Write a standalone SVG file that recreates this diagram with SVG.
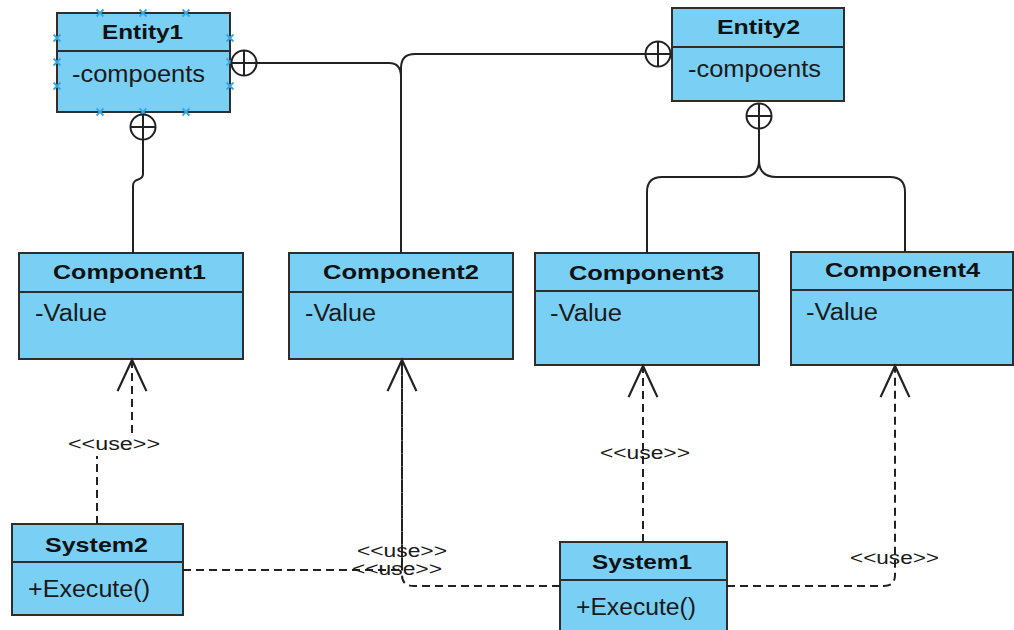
<svg xmlns="http://www.w3.org/2000/svg" width="1014" height="630" viewBox="0 0 1014 630">
  <style>
    .box { fill: #79cff4; stroke: #2e2e2e; stroke-width: 2; }
    .div { stroke: #2e2e2e; stroke-width: 2; }
    .title { font-family: "Liberation Sans", Arial, sans-serif; font-weight: bold; font-size: 21px; fill: #111; }
    .attr { font-family: "Liberation Sans", Arial, sans-serif; font-size: 23px; fill: #1a1a1a; }
    .lbl { font-family: "Liberation Sans", Arial, sans-serif; font-size: 18px; fill: #1a1a1a; }
    .solid { fill: none; stroke: #222; stroke-width: 2; }
    .dash { fill: none; stroke: #222; stroke-width: 2; stroke-dasharray: 8 5; }
    .nest { fill: #fff; stroke: #222; stroke-width: 2; }
    .sel { stroke: #3aa7e2; stroke-width: 1.8; }
  </style>
  <defs>
    <marker id="open" markerUnits="userSpaceOnUse" markerWidth="40" markerHeight="40" viewBox="-32 -16 36 32" refX="0" refY="0" orient="auto" overflow="visible">
      <path d="M-28,-13 L0,0 L-28,13" fill="none" stroke="#222" stroke-width="2"/>
    </marker>
    <g id="nestmark">
      <circle r="12.5" class="nest"/>
      <path d="M-12.5,0 H12.5 M0,-12.5 V12.5" stroke="#222" stroke-width="2"/>
    </g>
    <path id="selx" d="M-3.5,-3.5 L3.5,3.5 M-3.5,3.5 L3.5,-3.5" class="sel"/>
  </defs>

  <rect width="1014" height="630" fill="#fff"/>

  <!-- classes -->
  <g id="entity1">
    <rect x="57" y="13" width="173" height="99" class="box"/>
    <line x1="57" y1="51" x2="230" y2="51" class="div"/>
    <text x="102" y="39" class="title" textLength="81" lengthAdjust="spacingAndGlyphs">Entity1</text>
    <text x="72" y="82" class="attr" textLength="133" lengthAdjust="spacingAndGlyphs">-compoents</text>
    <!-- selection handles -->
    <use href="#selx" x="100" y="13"/>
    <use href="#selx" x="143" y="13"/>
    <use href="#selx" x="186" y="13"/>
    <use href="#selx" x="100" y="112"/>
    <use href="#selx" x="143" y="112"/>
    <use href="#selx" x="186" y="112"/>
    <use href="#selx" x="57" y="38"/>
    <use href="#selx" x="57" y="62"/>
    <use href="#selx" x="57" y="86"/>
    <use href="#selx" x="230" y="38"/>
    <use href="#selx" x="230" y="62"/>
    <use href="#selx" x="230" y="86"/>
  </g>

  <g id="entity2">
    <rect x="672" y="8" width="172" height="93" class="box"/>
    <line x1="672" y1="47" x2="844" y2="47" class="div"/>
    <text x="717" y="34" class="title" textLength="83" lengthAdjust="spacingAndGlyphs">Entity2</text>
    <text x="688" y="77" class="attr" textLength="133" lengthAdjust="spacingAndGlyphs">-compoents</text>
  </g>

  <g id="component1">
    <rect x="19" y="253" width="224" height="106" class="box"/>
    <line x1="19" y1="292" x2="243" y2="292" class="div"/>
    <text x="53" y="279" class="title" textLength="153" lengthAdjust="spacingAndGlyphs">Component1</text>
    <text x="35" y="321" class="attr" textLength="72" lengthAdjust="spacingAndGlyphs">-Value</text>
  </g>

  <g id="component2">
    <rect x="289" y="253" width="224" height="106" class="box"/>
    <line x1="289" y1="292" x2="513" y2="292" class="div"/>
    <text x="323" y="279" class="title" textLength="156" lengthAdjust="spacingAndGlyphs">Component2</text>
    <text x="305" y="321" class="attr" textLength="71" lengthAdjust="spacingAndGlyphs">-Value</text>
  </g>

  <g id="component3">
    <rect x="535" y="253" width="224" height="112" class="box"/>
    <line x1="535" y1="291" x2="759" y2="291" class="div"/>
    <text x="569" y="280" class="title" textLength="155" lengthAdjust="spacingAndGlyphs">Component3</text>
    <text x="550" y="321" class="attr" textLength="72" lengthAdjust="spacingAndGlyphs">-Value</text>
  </g>

  <g id="component4">
    <rect x="791" y="252" width="222" height="113" class="box"/>
    <line x1="791" y1="290" x2="1013" y2="290" class="div"/>
    <text x="825" y="277" class="title" textLength="155" lengthAdjust="spacingAndGlyphs">Component4</text>
    <text x="806" y="320" class="attr" textLength="72" lengthAdjust="spacingAndGlyphs">-Value</text>
  </g>

  <g id="system2">
    <rect x="12" y="524" width="171" height="91" class="box"/>
    <line x1="12" y1="562" x2="183" y2="562" class="div"/>
    <text x="45" y="552" class="title" textLength="103" lengthAdjust="spacingAndGlyphs">System2</text>
    <text x="28" y="597" class="attr" textLength="122" lengthAdjust="spacingAndGlyphs">+Execute()</text>
  </g>

  <g id="system1">
    <rect x="560" y="542" width="167" height="100" class="box"/>
    <line x1="560" y1="580" x2="727" y2="580" class="div"/>
    <text x="592" y="569" class="title" textLength="100" lengthAdjust="spacingAndGlyphs">System1</text>
    <text x="576" y="615" class="attr" textLength="120" lengthAdjust="spacingAndGlyphs">+Execute()</text>
  </g>

  <!-- connectors -->
  <g id="connectors">
    <!-- nesting: Entity1 / Entity2 own Component2 -->
    <path d="M256,63 H389 Q401,63 401,77 V253" class="solid"/>
    <path d="M645,54 H415 Q401,54 401,68 V253" class="solid"/>
    <!-- nesting: Entity1 owns Component1 -->
    <path d="M143,140 V174 C143,182 133,177 133,186 V253" class="solid"/>
    <!-- nesting: Entity2 owns Component3 and Component4 -->
    <path d="M759,129 V160 Q759,177 742,177 H662 Q647,177 647,192 V253" class="solid"/>
    <path d="M759,160 Q759,177 776,177 H890 Q905,177 905,192 V252" class="solid"/>
    <use href="#nestmark" x="244" y="63"/>
    <use href="#nestmark" x="143" y="127"/>
    <use href="#nestmark" x="658" y="54"/>
    <use href="#nestmark" x="759" y="116"/>

    <!-- usage dependencies -->
    <path d="M97,524 V456 M132,433 V360" class="dash" marker-end="url(#open)"/>
    <path d="M183,570 H396 Q402,570 402,564 V360" class="dash" marker-end="url(#open)"/>
    <path d="M560,586 H414 Q402,586 402,575 V360" class="dash"/>
    <path d="M643,542 V366" class="dash" marker-end="url(#open)"/>
    <path d="M727,586 H884 Q895,586 895,575 V366" class="dash" marker-end="url(#open)"/>

    <text x="68" y="450" class="lbl" textLength="92" lengthAdjust="spacingAndGlyphs">&lt;&lt;use&gt;&gt;</text>
    <text x="357" y="557" class="lbl" textLength="90" lengthAdjust="spacingAndGlyphs">&lt;&lt;use&gt;&gt;</text>
    <text x="352" y="575" class="lbl" textLength="90" lengthAdjust="spacingAndGlyphs">&lt;&lt;use&gt;&gt;</text>
    <text x="600" y="459" class="lbl" textLength="90" lengthAdjust="spacingAndGlyphs">&lt;&lt;use&gt;&gt;</text>
    <text x="850" y="564" class="lbl" textLength="89" lengthAdjust="spacingAndGlyphs">&lt;&lt;use&gt;&gt;</text>
  </g>
</svg>
